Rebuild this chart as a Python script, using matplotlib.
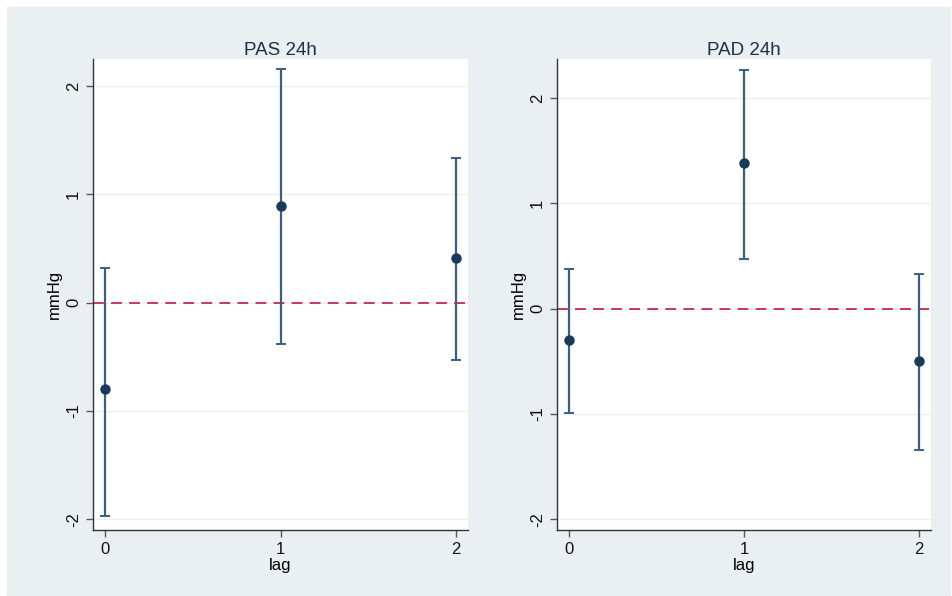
import matplotlib.pyplot as plt
from matplotlib.patches import Rectangle

plt.rcParams['font.family'] = ['Liberation Sans', 'DejaVu Sans']

# estimates by lag, with confidence bounds (mmHg)
lags = [0, 1, 2]
pas_est = [-0.80, 0.89, 0.41]
pas_lo = [-1.97, -0.38, -0.53]
pas_hi = [0.32, 2.16, 1.34]
pad_est = [-0.30, 1.38, -0.50]
pad_lo = [-0.99, 0.47, -1.34]
pad_hi = [0.38, 2.27, 0.33]
titles = ['PAS 24h', 'PAD 24h']

bg = '#eaf0f2'
bar_col = '#3a5f80'
pt_col = '#1a3a5c'
line_col = '#c8284e'

fig = plt.figure(figsize=(9.52, 5.96), dpi=100)
fig.patches.append(Rectangle((7 / 952, 1 - 595 / 596), 943 / 952, 588 / 596,
                             transform=fig.transFigure, color=bg, zorder=-10))

panels = [
    ([93 / 952, 1 - 530 / 596, 375 / 952, 471 / 596], pas_est, pas_lo, pas_hi, (-2.1, 2.25)),
    ([557 / 952, 1 - 530 / 596, 374 / 952, 471 / 596], pad_est, pad_lo, pad_hi, (-2.1, 2.37)),
]

for (pos, est, lo, hi, ylim), title in zip(panels, titles):
    ax = fig.add_axes(pos)
    ax.set_facecolor('white')
    err = [[e - l for e, l in zip(est, lo)], [h - e for e, h in zip(est, hi)]]
    ax.errorbar(lags, est, yerr=err, fmt='o', color=pt_col, ecolor=bar_col,
                elinewidth=1.6, capsize=3.5, capthick=1.4, markersize=6.5, zorder=3)
    ax.axhline(0, color=line_col, linestyle=(0, (6, 4)), linewidth=1.3, zorder=2)
    ax.set_xlim(-0.068, 2.068)
    ax.set_ylim(*ylim)
    ax.set_xticks(lags)
    ax.set_yticks([-2, -1, 0, 1, 2])
    ax.set_yticklabels(['-2', '-1', '0', '1', '2'], rotation=90, va='center')
    ax.grid(axis='y', color='#eaeeef', linewidth=1.0, zorder=1)
    ax.set_axisbelow(True)
    for s in ['top', 'right']:
        ax.spines[s].set_visible(False)
    for s in ['left', 'bottom']:
        ax.spines[s].set_color('#333333')
        ax.spines[s].set_linewidth(1.0)
    ax.tick_params(direction='out', length=5, width=1, colors='#555555',
                   labelcolor='#111111', labelsize=12)
    ax.set_xlabel('lag', fontsize=12, labelpad=1)
    ax.set_ylabel('mmHg', fontsize=12, labelpad=3)
    ax.set_title(title, fontsize=13.5, color='#1e2f45', pad=3)

fig.savefig('out.png', dpi=100, facecolor='white')
